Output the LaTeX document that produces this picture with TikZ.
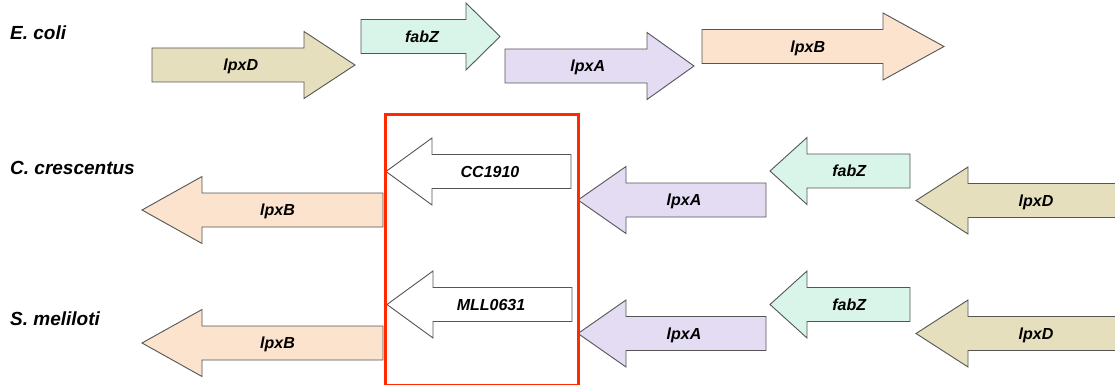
\documentclass[tikz,border=0pt]{standalone}
\usepackage{fontspec}
\setmainfont{Liberation Sans}
\usepackage{tikz}
\definecolor{lpxdtan}{HTML}{E6DFBE}
\definecolor{fabzmint}{HTML}{D9F5E9}
\definecolor{lpxalilac}{HTML}{E3DCF2}
\definecolor{lpxbpeach}{HTML}{FBE3CD}
\definecolor{outlinegray}{HTML}{555555}
\definecolor{boxred}{HTML}{FF2A00}

% name, fill, tail x, head x, tip x, mid y, label
\newcommand{\genearrow}[7]{%
    \draw[genebody, fill=#2] (#3,#6-17) -- (#4,#6-17) -- (#4,#6-33.5) -- (#5,#6)
        -- (#4,#6+33.5) -- (#4,#6+17) -- (#3,#6+17) -- cycle;
    \node[genelabel] (#1) at ({(#3+#4)/2+(#5-#4)/4},#6) {#7};
}

\begin{document}
\begin{tikzpicture}[x=1pt,y=-1pt,
    genebody/.style={draw=outlinegray, line width=0.9pt, line join=miter},
    genelabel/.style={inner sep=0pt, text height=11.5pt, text depth=0pt,
        font=\fontsize{16}{19}\selectfont\bfseries\itshape},
    species/.style={anchor=base west, inner sep=0pt,
        font=\fontsize{19}{22}\selectfont\bfseries\itshape}
]
\useasboundingbox (0,0) rectangle (1115,385);
\clip (0,0) rectangle (1115,385);

\node[species] (ecoli) at (10,40) {E. coli};
\node[species] (ccres) at (10,174) {C. crescentus};
\node[species] (smeli) at (10,325) {S. meliloti};

\genearrow{ec-lpxD}{lpxdtan}{152}{304}{355}{65}{lpxD}
\genearrow{ec-fabZ}{fabzmint}{361}{466}{500}{36.5}{fabZ}
\genearrow{ec-lpxA}{lpxalilac}{505}{647}{694}{66}{lpxA}
\genearrow{ec-lpxB}{lpxbpeach}{702}{883}{944}{46.5}{lpxB}

\genearrow{cc-lpxB}{lpxbpeach}{383}{202}{142}{210}{lpxB}
\genearrow{cc-cc1910}{white}{571}{432}{386}{171.5}{CC1910}
\genearrow{cc-lpxA}{lpxalilac}{766}{626}{578}{200}{lpxA}
\genearrow{cc-fabZ}{fabzmint}{910}{807}{770}{171}{fabZ}
\genearrow{cc-lpxD}{lpxdtan}{1130}{968}{916}{200.5}{lpxD}

\genearrow{sm-lpxB}{lpxbpeach}{383}{202}{142}{343}{lpxB}
\genearrow{sm-mll0631}{white}{572}{433}{387}{304.5}{MLL0631}
\genearrow{sm-lpxA}{lpxalilac}{766}{626}{578}{333.5}{lpxA}
\genearrow{sm-fabZ}{fabzmint}{910}{807}{770}{304.5}{fabZ}
\genearrow{sm-lpxD}{lpxdtan}{1130}{968}{916}{333.5}{lpxD}

\node[draw=boxred, line width=3pt, inner sep=0pt, minimum width=193pt,
    minimum height=270.5pt, anchor=north west] (ortholog) at (383.5,113) {};
\end{tikzpicture}
\end{document}
